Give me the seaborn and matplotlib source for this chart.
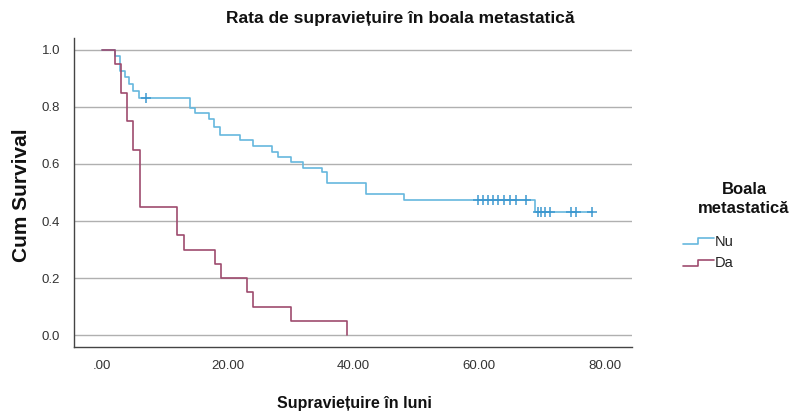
import numpy as np
import pandas as pd
import matplotlib
matplotlib.use("Agg")
import matplotlib.pyplot as plt
from matplotlib.lines import Line2D
from matplotlib.legend_handler import HandlerBase
import seaborn as sns

# ---------------- data ----------------
groups = ["Nu", "Da"]

nu_times = [0, 2, 2.8, 3.6, 4.3, 5, 5.9, 14, 14.8, 17, 17.8, 18.8, 22, 24, 27, 28,
            30, 32, 35, 35.8, 42, 48, 68.8, 78]
nu_surv = [1.0, 0.98, 0.925, 0.905, 0.88, 0.855, 0.833, 0.795, 0.779, 0.758, 0.73,
           0.703, 0.684, 0.663, 0.643, 0.626, 0.606, 0.587, 0.573, 0.532, 0.494,
           0.474, 0.433, 0.433]
nu_censored = [7, 59.8, 60.6, 61.4, 62.2, 63, 64, 64.9, 65.9, 67.5,
               69.3, 69.8, 70.5, 71.3, 74.6, 75.4, 78]

da_times = [0, 2, 3, 4, 5, 6, 12, 13, 18, 19, 23, 24, 30, 39]
da_surv = [1.0, 0.95, 0.85, 0.75, 0.65, 0.45, 0.35, 0.30, 0.25, 0.20, 0.15, 0.10,
           0.05, 0.0]

y_ticks = [0.0, 0.2, 0.4, 0.6, 0.8, 1.0]
y_tick_labels = ["0.0", "0.2", "0.4", "0.6", "0.8", "1.0"]
x_ticks = [0, 20, 40, 60, 80]
x_tick_labels = [".00", "20.00", "40.00", "60.00", "80.00"]

title = "Rata de supraviețuire în boala metastatică"
x_label = "Supraviețuire în luni"
y_label = "Cum Survival"
legend_title = "Boala\nmetastatică"

# ---------------- style ----------------
sns.set_theme(style="white")
plt.rcParams["font.family"] = ["Liberation Sans", "DejaVu Sans"]

c_nu = "#66b8de"
c_nu_mark = "#3d98d0"
c_da = "#9e4b6e"

steps = pd.concat([
    pd.DataFrame({"group": "Nu", "t": nu_times, "S": nu_surv}),
    pd.DataFrame({"group": "Da", "t": da_times, "S": da_surv}),
], ignore_index=True)

nu_t = np.asarray(nu_times)
nu_s = np.asarray(nu_surv)
cens_s = nu_s[np.searchsorted(nu_t, nu_censored, side="right") - 1]
cens = pd.DataFrame({"t": nu_censored, "S": cens_s})

W, H = 793, 419
fig = plt.figure(figsize=(W / 100, H / 100), dpi=100)
ax_l, ax_r, ax_b, ax_t = 74, 632, 347, 38
ax = fig.add_axes([ax_l / W, 1 - ax_b / H, (ax_r - ax_l) / W, (ax_b - ax_t) / H])

sns.lineplot(data=steps, x="t", y="S", hue="group", hue_order=groups,
             palette={"Nu": c_nu, "Da": c_da}, drawstyle="steps-post",
             estimator=None, sort=False, linewidth=1.2, legend=False, ax=ax)
sns.scatterplot(data=cens, x="t", y="S", marker="+", s=50, color=c_nu_mark,
                linewidth=1.1, legend=False, ax=ax, zorder=4)

ax.set_xlim(-4.45, 84.3)
ax.set_ylim(-0.042, 1.042)
ax.set_yticks(y_ticks)
ax.set_yticklabels(y_tick_labels)
ax.set_xticks(x_ticks)
ax.set_xticklabels(x_tick_labels)
ax.tick_params(axis="both", length=0, labelsize=9.5, labelcolor="#333333")
ax.tick_params(axis="y", pad=10)
ax.tick_params(axis="x", pad=9)
ax.yaxis.grid(True, color="#b0b0b0", linewidth=1.0)
ax.xaxis.grid(False)
ax.set_axisbelow(True)
for s in ["top", "right"]:
    ax.spines[s].set_visible(False)
for s in ["left", "bottom"]:
    ax.spines[s].set_color("#444444")
    ax.spines[s].set_linewidth(1.0)
ax.set_xlabel("")
ax.set_ylabel("")

fig.text(400 / W, 1 - 18 / H, title, ha="center", va="center",
         fontsize=12.5, fontweight="bold", color="#111111")
fig.text(354 / W, 1 - 403 / H, x_label, ha="center", va="center",
         fontsize=11.5, fontweight="bold", color="#111111")
fig.text(22 / W, 1 - 195 / H, y_label, ha="center", va="center", rotation=90,
         fontsize=15, fontweight="bold", color="#111111")
fig.text(744 / W, 1 - 199 / H, legend_title, ha="center", va="center",
         multialignment="center", fontsize=12, fontweight="bold",
         color="#111111", linespacing=1.3)


class StepHandler(HandlerBase):
    def create_artists(self, legend, orig_handle, xdescent, ydescent, width,
                       height, fontsize, trans):
        x0 = -xdescent
        xm = x0 + width * 0.5
        xs = [x0, xm, xm, x0 + width]
        lo = -ydescent + height * 0.15
        hi = -ydescent + height * 0.75
        ys = [lo, lo, hi, hi]
        ln = Line2D(xs, ys, color=orig_handle.get_color(),
                    linewidth=orig_handle.get_linewidth(), transform=trans)
        return [ln]


handles = [Line2D([], [], color=c_nu, lw=1.2), Line2D([], [], color=c_da, lw=1.2)]
leg = fig.legend(handles, groups, loc="upper left",
                 bbox_to_anchor=(683 / W, 1 - 235 / H), frameon=False,
                 fontsize=10.5, borderpad=0, borderaxespad=0, handlelength=2.1,
                 handletextpad=0.1, labelspacing=0.5,
                 handler_map={Line2D: StepHandler()})
for t in leg.get_texts():
    t.set_color("#222222")

fig.savefig("out.png", dpi=100, facecolor="white")
